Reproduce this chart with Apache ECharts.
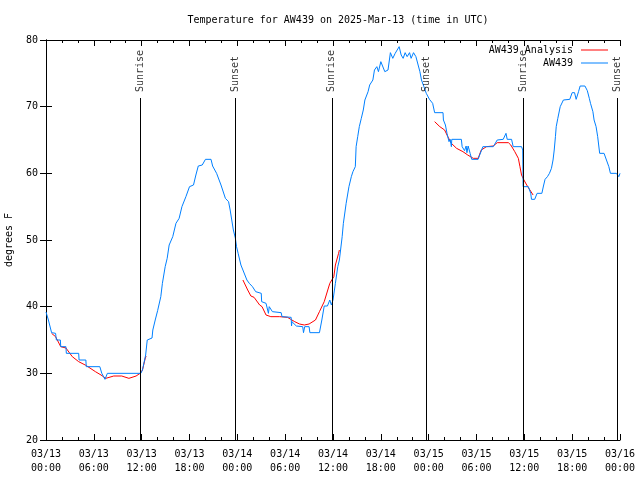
<!DOCTYPE html>
<html>
<head>
<meta charset="utf-8">
<script src="https://cdn.jsdelivr.net/npm/echarts@6/dist/echarts.min.js"></script>
<style>html,body{margin:0;padding:0;background:#fff;}#c{width:640px;height:480px;}</style>
</head>
<body>
<div id="c"></div>
<script>
// hours since 2025-03-13 00:00 UTC
const tickLabels = ['03/13\n00:00','03/13\n06:00','03/13\n12:00','03/13\n18:00','03/14\n00:00','03/14\n06:00','03/14\n12:00','03/14\n18:00','03/15\n00:00','03/15\n06:00','03/15\n12:00','03/15\n18:00','03/16\n00:00'];
const sunEvents = ['Sunrise','Sunset','Sunrise','Sunset','Sunrise','Sunset'];
const sunHours = [11.85, 23.7, 35.85, 47.7, 59.85, 71.7];

const aw439 = [
[0.0,39.2],[0.3,38],[0.7,36.1],[1.2,36],[1.3,35],[1.8,35],[1.85,34],[2.5,34],[2.55,33],[4.1,33],[4.15,32],[5.0,32],[5.05,31],[6.75,31],[7.0,30],[7.4,29.1],[7.7,30],[11.9,30],
[12.1,30.5],[12.5,32.75],[12.7,35],[13.3,35.3],[13.4,36.5],[13.7,38],[14.0,39.4],[14.4,41.5],[14.6,43.5],[14.95,46],[15.2,47.25],[15.45,49.25],[15.9,50.5],[16.3,52.5],[16.7,53.25],[17.05,55],[17.55,56.5],[18.0,58],[18.5,58.25],[18.8,59.75],[19.1,61.1],[19.6,61.25],[20.0,62.1],[20.7,62.1],[20.9,61.1],[21.4,60],[21.95,58.25],[22.5,56.25],[22.9,55.75],[23.1,54.5],[23.3,53],[23.5,51.5],[23.75,50.3],[23.9,49],
[24.1,48],[24.45,46.25],[24.7,45.5],[25.2,44],[25.5,43.5],[25.9,43],[26.3,42.25],[27.0,42],[27.05,40.75],[27.6,40.5],[27.9,39],[28.0,40],[28.4,39.25],[29.5,39.1],[29.6,38.5],[30.75,38.4],[30.8,37.1],[30.85,37.75],[31.4,37.1],[32.2,37],[32.3,36.1],[32.45,37],[33.0,37],[33.1,36.1],[34.3,36.1],[34.6,38],[34.9,40.1],[35.3,40.1],[35.6,41],[35.8,40.25],[36.0,41],[36.15,40.75],[36.3,43.5],[36.6,46],[36.8,47],
[37.15,50.5],[37.3,52.5],[37.65,55.5],[38.0,58],[38.3,59.5],[38.5,60.25],[38.8,61],[38.9,64],[39.1,65.5],[39.3,67],[39.55,68.25],[39.8,69.5],[40.0,71],[40.4,72.25],[40.6,73.25],[41.0,74],[41.2,75.5],[41.5,76],[41.7,75.25],[42.0,76.75],[42.25,77],[42.5,75.25],[42.9,75.5],[43.2,78.1],[43.5,77.25],[43.8,78],[44.3,79],[44.55,77.75],[44.8,77.25],[45.05,78.1],[45.3,77.5],[45.6,78.1],[45.8,77.25],[46.1,78.1],[46.4,77.5],[46.5,77.25],[46.9,75.25],[47.1,74],[47.4,73],[47.7,72],
[48.1,71.1],[48.5,70.5],[48.75,69.1],[49.8,69.1],[49.85,68],[50.1,67.25],[50.3,66],[50.55,64.75],[50.7,65.1],[50.85,64],[50.9,65.1],[52.1,65.1],[52.2,64],[52.5,63.4],[52.7,64.1],[52.8,63.1],[52.95,64.1],[53.2,63],[53.4,62.1],[54.2,62.1],[54.4,62.75],[54.8,64],[56.1,64],[56.6,65],[57.35,65.1],[57.7,66],[57.85,65.1],[58.4,65.1],[58.6,64],[59.65,64],[59.8,63.5],[59.85,58],[60.5,58],[60.8,57],[60.9,56.1],[61.3,56.1],[61.6,57],[62.2,57],[62.4,58.1],[62.6,59.1],[62.9,59.5],[63.15,60],[63.4,60.75],[63.6,62],[63.75,63.5],[63.9,65.5],[64.0,67],[64.2,68.25],[64.5,70],[64.9,71],[65.7,71.1],[66.0,72.1],[66.3,72.1],[66.5,71.1],[66.8,72.25],[67.0,73.1],[67.6,73.1],[67.9,72.4],[68.15,71.25],[68.3,70.5],[68.6,69.25],[68.75,68],[69.0,67],[69.2,65.5],[69.45,63],[70.0,63],[70.3,62],[70.6,61],[70.8,60],[71.55,60],[71.85,59.5],[72.0,60]
];

const analysisDay1 = [[0.7,36],[1.2,35.5],[1.85,34],[2.5,33.8],[3.3,32.5],[4.1,31.75],[5.0,31.2],[6.2,30.25],[6.9,29.75],[7.5,29.25],[8.5,29.6],[9.5,29.6],[10.4,29.25],[11.3,29.6],[11.8,30],[12.1,30.5],[12.5,32.5],[12.6,32.5]];
const analysisDay2 = [[24.7,44],[24.85,43.7],[25.3,42.5],[25.7,41.6],[26.1,41.4],[26.8,40.25],[27.1,40],[27.6,38.75],[28.2,38.5],[29.3,38.5],[30.3,38.4],[30.7,38.1],[31.2,37.75],[31.8,37.4],[32.4,37.25],[33.0,37.4],[33.8,38],[34.3,39.25],[34.9,40.75],[35.6,43.5],[36.1,44.5],[36.3,46.25],[36.7,48],[36.8,48.5]];
const analysisDay3 = [[48.75,67.75],[49.4,67],[50.0,66.5],[50.4,65.5],[50.85,64.5],[51.5,63.75],[52.3,63.25],[52.9,62.75],[53.6,62.25],[54.2,62.25],[54.6,63.5],[55.25,64],[56.1,64.1],[56.6,64.6],[58.0,64.6],[58.3,64.25],[58.8,63.25],[59.25,62.25],[59.45,61],[59.65,59.75],[59.95,59],[60.3,58.25],[60.7,57.5],[61.1,56.75]];

const analysis = [].concat(analysisDay1, [[12.7,'-']], analysisDay2, [[37,'-']], analysisDay3);

const FONT = 'DejaVu Sans Mono';
const txt = {color:'#000', fontFamily: FONT, fontSize: 10};
const RED = '#ff0000', BLUE = '#0080ff';

const chart = echarts.init(document.getElementById('c'), null, {renderer:'canvas'});
const axisCommon = {
  axisLine:{show:true, lineStyle:{color:'#000', width:1}},
  splitLine:{show:false}
};
chart.setOption({
  animation:false,
  backgroundColor:'#fff',
  title:{text:'Temperature for AW439 on 2025-Mar-13 (time in UTC)', left:333, textAlign:'center', top:10,
    textStyle:{color:'#000', fontFamily:FONT, fontSize:10, fontWeight:'normal'}},
  grid:{left:46, right:20, top:40, bottom:40, containLabel:false, outerBoundsMode:'none'},
  legend:{data:[{name:'AW439 Analysis', icon:'rect', itemStyle:{color:RED}}, {name:'AW439', icon:'rect', itemStyle:{color:BLUE}}],
    orient:'vertical', right:27, top:42, align:'right', padding:[3,5,3,5],
    itemWidth:27, itemHeight:1, itemGap:3, textStyle:Object.assign({}, txt, {padding:[0,3,0,0], lineHeight:10})},
  xAxis:[
    Object.assign({type:'value', min:0, max:72, interval:6, position:'bottom',
      axisTick:{show:true, inside:true, length:6, lineStyle:{color:'#000'}},
      minorTick:{show:true, splitNumber:3, length:3, lineStyle:{color:'#000'}},
      axisLabel:Object.assign({}, txt, {margin:7, lineHeight:14, formatter:(v)=>tickLabels[Math.round(v/6)]})}, axisCommon),
    Object.assign({type:'value', min:0, max:72, interval:6, position:'top',
      axisTick:{show:true, inside:true, length:6, lineStyle:{color:'#000'}},
      minorTick:{show:true, splitNumber:3, length:3, lineStyle:{color:'#000'}},
      axisLabel:{show:false}}, axisCommon)
  ],
  yAxis:[
    Object.assign({type:'value', min:20, max:80, interval:10, position:'left',
      name:'degrees F', nameLocation:'middle', nameGap:32, nameRotate:90, nameTextStyle:txt,
      axisTick:{show:true, inside:true, length:6, lineStyle:{color:'#000'}},
      axisLabel:Object.assign({}, txt, {margin:8})}, axisCommon),
    Object.assign({type:'value', min:20, max:80, interval:10, position:'right',
      axisTick:{show:true, inside:true, length:6, lineStyle:{color:'#000'}},
      axisLabel:{show:false}}, axisCommon)
  ],
  series:[
    {name:'AW439 Analysis', type:'line', data:analysis, showSymbol:false, symbol:'none',
      connectNulls:false, lineStyle:{color:RED, width:1}, itemStyle:{color:RED}, z:2},
    {name:'AW439', type:'line', data:aw439, showSymbol:false, symbol:'none',
      lineStyle:{color:BLUE, width:1}, itemStyle:{color:BLUE}, z:3},
    {name:'sun', type:'scatter', symbolSize:0, silent:true, z:4,
      data:sunHours.map((h)=>[h, 72.2]),
      label:Object.assign({show:true, position:'inside', rotate:90, align:'left', verticalAlign:'middle',
        formatter:(p)=>sunEvents[p.dataIndex]}, txt),
      markLine:{silent:true, symbol:['none','none'], label:{show:false},
        lineStyle:{color:'#000', width:1, type:'solid'},
        data:sunHours.map((h)=>[{coord:[h,20]},{coord:[h,71.3]}])}
    }
  ]
});
</script>
</body>
</html>
